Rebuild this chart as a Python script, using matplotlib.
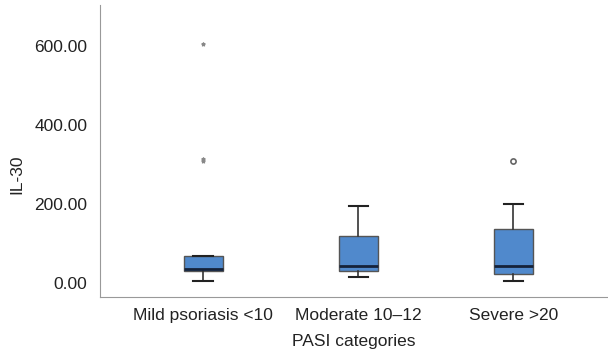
import matplotlib.pyplot as plt

# PASI groups and IL-30 box statistics
categories = ['Mild psoriasis <10', 'Moderate 10\u201312', 'Severe >20']
whislo = [6, 15, 7]
q1 = [30, 31, 24]
med = [36, 45, 43]
q3 = [69, 120, 137]
whishi = [69, 196, 200]
fliers = [[310, 316, 605], [], [311]]

plt.rcParams['font.family'] = ['Liberation Sans', 'DejaVu Sans']

stats = []
for i in range(len(categories)):
    stats.append(dict(whislo=whislo[i], q1=q1[i], med=med[i], q3=q3[i],
                      whishi=whishi[i], fliers=[], label=categories[i]))

fig = plt.figure(figsize=(6.08, 3.55), dpi=100)
ax = fig.add_axes([0.1645, 0.163, 0.8355, 0.823])

pos = list(range(len(categories)))
ax.bxp(stats, positions=pos, widths=0.25, patch_artist=True, showfliers=False,
       boxprops=dict(facecolor='#5089cc', edgecolor='#555555', linewidth=1.0),
       medianprops=dict(color='#15223a', linewidth=2.0),
       whiskerprops=dict(color='#333333', linewidth=1.2),
       capprops=dict(color='#222222', linewidth=1.5))

# outliers: mild group drawn as small stars, severe as open circle
ax.scatter([0] * len(fliers[0]), fliers[0], marker='*', s=6, color='#888888', zorder=3)
ax.scatter([2] * len(fliers[2]), fliers[2], marker='o', s=14, facecolor='white',
           edgecolor='#666666', linewidth=1.2, zorder=3)

ax.set_xlim(-0.665, 2.61)
ax.set_ylim(-35, 705)
ax.set_yticks([0, 200, 400, 600])
ax.set_yticklabels(['0.00', '200.00', '400.00', '600.00'])
ax.set_xticks(pos)
ax.set_xticklabels(categories)
ax.tick_params(length=0, labelsize=12.5, colors='#222222')
ax.tick_params(axis='y', pad=9)
ax.tick_params(axis='x', pad=8)
ax.set_xlabel('PASI categories', fontsize=12.5, color='#222222', labelpad=8)
ax.set_ylabel('IL-30', fontsize=12.5, color='#222222', labelpad=8)
ax.yaxis.set_label_coords(-0.148, 0.42)

for s in ['top', 'right']:
    ax.spines[s].set_visible(False)
for s in ['left', 'bottom']:
    ax.spines[s].set_color('#999999')

plt.savefig('out.png', dpi=100)
